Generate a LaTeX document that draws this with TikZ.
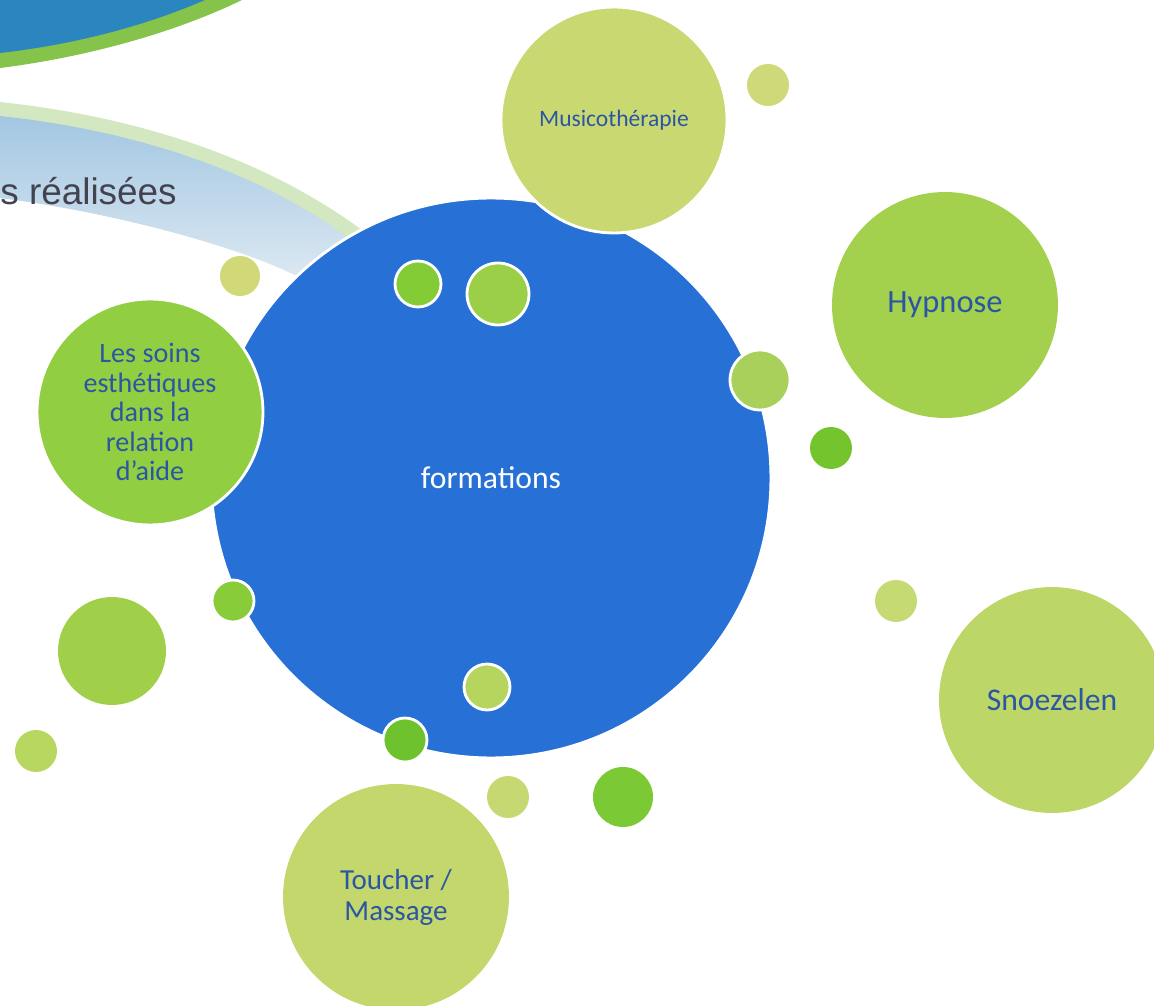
\documentclass[tikz,border=0pt]{standalone}
\usepackage{fontspec}
\setmainfont{Carlito}
\newfontfamily\arialf{Liberation Sans}
\definecolor{mainblue}{HTML}{2670D6}
\definecolor{labblue}{HTML}{2B56A3}
\definecolor{titlegray}{HTML}{434350}
\definecolor{tlblue}{HTML}{2B85BE}
\definecolor{tlgreen}{HTML}{86C34A}
\definecolor{bandgreen}{HTML}{D3E8C0}
\definecolor{bandtop}{HTML}{A3C7E2}
\definecolor{bandbot}{HTML}{DCE8F2}
\definecolor{cMusic}{HTML}{CAD872}
\definecolor{cTop}{HTML}{D0D97A}
\definecolor{cHyp}{HTML}{A3D14E}
\definecolor{cA}{HTML}{A9D05A}
\definecolor{cB}{HTML}{74C42E}
\definecolor{cC}{HTML}{C5DA72}
\definecolor{cSnoe}{HTML}{BDD668}
\definecolor{cD}{HTML}{7BC934}
\definecolor{cE}{HTML}{C6D872}
\definecolor{cTouch}{HTML}{C3D76C}
\definecolor{cF}{HTML}{6EC22E}
\definecolor{cG}{HTML}{B5D55E}
\definecolor{cH}{HTML}{88CC3A}
\definecolor{cI}{HTML}{A0D04A}
\definecolor{cJ}{HTML}{B8D760}
\definecolor{cSoins}{HTML}{92CE42}
\definecolor{cK}{HTML}{D0D878}
\definecolor{cL}{HTML}{84CC35}
\definecolor{cM}{HTML}{9BCF48}
\begin{document}
\begin{tikzpicture}[x=0.02cm,y=-0.02cm,
  bub/.style={circle,inner sep=0pt,fill=#1},
  wb/.style={circle,inner sep=0pt,fill=#1,draw=white,line width=1.6pt},
  lab/.style={text=labblue,font=\fontsize{18.5}{20}\selectfont,align=center}]
\useasboundingbox (0,0) rectangle (1154,1006);
\clip (0,0) rectangle (1154,1006);
% decorative band
\fill[bandgreen] (0,102) .. controls (150,118) and (280,165) .. (375,240)
  -- (305,280) .. controls (240,245) and (100,210) .. (0,198) -- cycle;
\shade[top color=bandtop,bottom color=bandbot] (0,116) .. controls (150,132) and (280,180) .. (370,255)
  -- (305,280) .. controls (240,245) and (100,210) .. (0,198) -- cycle;
% top-left arc
\fill[tlgreen] (0,0) -- (242,0) .. controls (170,35) and (80,58) .. (0,68) -- cycle;
\fill[tlblue] (0,0) -- (205,0) .. controls (140,28) and (70,45) .. (0,53) -- cycle;
\node[anchor=base west,inner sep=0pt,font=\arialf\fontsize{21}{25}\selectfont,text=titlegray] (title) at (0,205) {s réalisées};
% main circle
\node[wb=mainblue,minimum size=11.2cm,text=white,font=\fontsize{18}{20}\selectfont] (main) at (491,478) {formations};
% big satellites
\node[wb=cMusic,minimum size=4.52cm,text=labblue,font=\fontsize{13.4}{16}\selectfont] (music) at (614,120) {Musicothérapie};
\node[wb=cSoins,minimum size=4.52cm,lab,font=\fontsize{16}{16.8}\selectfont] (soins) at (150,412) {Les soins\\esthétiques\\dans la\\relation\\d’aide};
\node[bub=cHyp,minimum size=4.52cm,lab] (hyp) at (945,305) {Hypnose};
\node[bub=cSnoe,minimum size=4.52cm,lab,font=\fontsize{18}{20}\selectfont] (snoe) at (1052,700) {Snoezelen};
\node[bub=cTouch,minimum size=4.52cm,lab,font=\fontsize{16.5}{17.6}\selectfont] (touch) at (396,897) {Toucher /\\Massage};
% small circles
\node[bub=cTop,minimum size=0.84cm] (s1) at (768,85) {};
\node[wb=cA,minimum size=1.2cm] (s2) at (760,380) {};
\node[bub=cB,minimum size=0.84cm] (s3) at (831,448) {};
\node[bub=cC,minimum size=0.84cm] (s4) at (896,601) {};
\node[bub=cD,minimum size=1.2cm] (s5) at (623,797) {};
\node[bub=cE,minimum size=0.84cm] (s6) at (508,797) {};
\node[wb=cF,minimum size=0.88cm] (s7) at (405,740) {};
\node[wb=cG,minimum size=0.92cm] (s8) at (487,687) {};
\node[wb=cH,minimum size=0.84cm] (s9) at (233,601) {};
\node[bub=cI,minimum size=2.16cm] (s10) at (112,651) {};
\node[bub=cJ,minimum size=0.84cm] (s11) at (36,751) {};
\node[bub=cK,minimum size=0.8cm] (s12) at (240,276) {};
\node[wb=cL,minimum size=0.92cm] (s13) at (418,284) {};
\node[wb=cM,minimum size=1.24cm] (s14) at (498,294) {};
\end{tikzpicture}
\end{document}
